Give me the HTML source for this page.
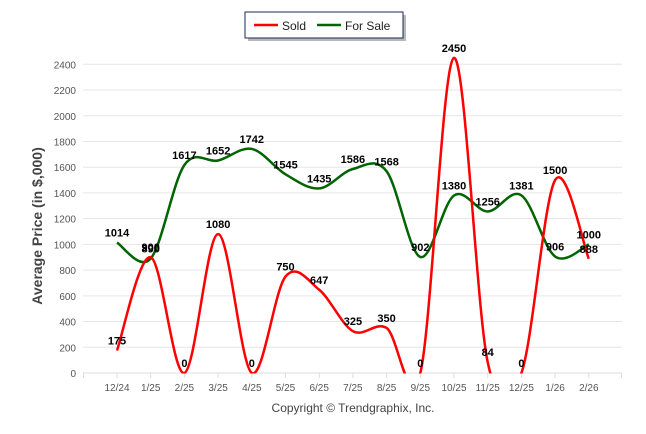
<!DOCTYPE html>
<html><head><meta charset="utf-8"><style>
html,body{margin:0;padding:0;background:#fff;width:646px;height:434px;overflow:hidden}
svg{display:block;font-family:"Liberation Sans",Arial,sans-serif}
</style></head><body>
<svg id="chart" width="646" height="434" viewBox="0 0 646 434">
<defs><clipPath id="plotclip"><rect x="83" y="40" width="545" height="333.5"/></clipPath></defs>
<g id="grid"></g>
<g id="yaxis"></g>
<g id="xaxis"></g>
<text x="42" y="226" transform="rotate(-90 42 226)" text-anchor="middle" font-size="14" font-weight="bold" fill="#444">Average Price (in $,000)</text>
<g id="series" clip-path="url(#plotclip)"></g>
<g id="labels"></g>
<g>
<rect x="248" y="15" width="158" height="26" fill="#888" opacity="0.6"/>
<rect x="245" y="12" width="158" height="26" fill="#fff" stroke="#1a2a5a" stroke-width="1"/>
<g><line x1="254" y1="25" x2="278" y2="25" stroke="#f00" stroke-width="2.5"/><text x="282" y="30" font-size="12" fill="#222">Sold</text></g>
<g><line x1="317" y1="25" x2="341" y2="25" stroke="#060" stroke-width="2.5"/><text x="345" y="30" font-size="12" fill="#222">For Sale</text></g>
</g>
<text x="353" y="412" text-anchor="middle" font-size="12" fill="#444">Copyright © Trendgraphix, Inc.</text>
</svg>
<script>
const categories=["12/24","1/25","2/25","3/25","4/25","5/25","6/25","7/25","8/25","9/25","10/25","11/25","12/25","1/26","2/26"];
const soldValues=[175,900,0,1080,0,750,647,325,350,0,2450,84,0,1500,888];
const forSaleValues=[1014,890,1617,1652,1742,1545,1435,1586,1568,902,1380,1256,1381,906,1000];
const yTicks=[0,200,400,600,800,1000,1200,1400,1600,1800,2000,2200,2400];
const NS="http://www.w3.org/2000/svg";
const y0=373,yScale=(373-64.3)/2400;
function yPos(v){return y0-v*yScale;}
function xPos(i){return 117+i*33.7;}
function mk(tag,attrs,parent){const e=document.createElementNS(NS,tag);for(const k in attrs)e.setAttribute(k,attrs[k]);parent.appendChild(e);return e;}
const grid=document.getElementById('grid'),ya=document.getElementById('yaxis'),xa=document.getElementById('xaxis');
yTicks.forEach(t=>{
  const l=mk('line',{x1:83,x2:622,y1:yPos(t),y2:yPos(t),stroke:t===0?'#ddd':'#e6e6e6','stroke-width':1},grid);
  
  
  const tx=mk('text',{x:76,y:yPos(t)+4,'text-anchor':'end','font-size':10,fill:'#555'},ya);
  tx.textContent=t;
  
  
});
mk('line',{x1:83.5,x2:83.5,y1:373,y2:378,stroke:'#ddd'},xa);
mk('line',{x1:621.5,x2:621.5,y1:373,y2:378,stroke:'#ddd'},xa);
categories.forEach((c,i)=>{
  mk('line',{x1:xPos(i),x2:xPos(i),y1:373,y2:378,stroke:'#ddd'},xa);
  const t=mk('text',{x:xPos(i),y:391,'text-anchor':'middle','font-size':10,fill:'#555'},xa);
  t.textContent=c;
  
  
});
function splinePath(vals){
  const p=vals.map((v,i)=>[xPos(i),yPos(v)]);
  let d='M'+p[0][0]+' '+p[0][1];
  for(let i=0;i<p.length-1;i++){
    const p0=p[Math.max(0,i-1)],p1=p[i],p2=p[i+1],p3=p[Math.min(p.length-1,i+2)];
    const c1x=p1[0]+(p2[0]-p0[0])/6,c1y=p1[1]+(p2[1]-p0[1])/6;
    const c2x=p2[0]-(p3[0]-p1[0])/6,c2y=p2[1]-(p3[1]-p1[1])/6;
    d+=` C${c1x} ${c1y} ${c2x} ${c2y} ${p2[0]} ${p2[1]}`;
  }
  return d;
}
const ser=document.getElementById('series'),lab=document.getElementById('labels');
const gp=mk('path',{d:splinePath(forSaleValues),fill:'none',stroke:'#006400','stroke-width':2.5},ser);


const rp=mk('path',{d:splinePath(soldValues),fill:'none',stroke:'#ff0000','stroke-width':2.5},ser);


function labels(vals){
  vals.forEach((v,i)=>{
    const t=mk('text',{x:xPos(i),y:yPos(v)-6,'text-anchor':'middle','font-size':11,'font-weight':'bold',fill:'#000'},lab);
    t.textContent=v;
    
    
  });
}
labels(forSaleValues);labels(soldValues);
</script>
</body></html>
